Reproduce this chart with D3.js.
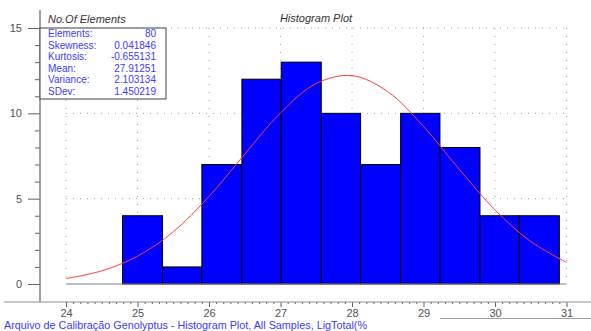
<!DOCTYPE html>
<html>
<head>
<meta charset="utf-8">
<script src="https://cdn.jsdelivr.net/npm/d3@7"></script>
<style>
	body { margin: 0; background: #ffffff; }
	svg text { font-family: "Liberation Sans", Arial, sans-serif; }
</style>
</head>
<body>
<div class="graph"></div>
<script>

// data

var binEdges = [24.79, 25.35, 25.90, 26.46, 27.01, 27.57, 28.12, 28.68, 29.23, 29.79, 30.34, 30.90];
var counts = [4, 1, 7, 12, 13, 10, 7, 10, 8, 4, 4];

// fitted normal curve, sampled every half unit
var curveX = [24, 24.5, 25, 25.5, 26, 26.5, 27, 27.5, 28, 28.5, 29, 29.5, 30, 30.5, 31];
var curveY = [0.32, 0.77, 1.63, 3.06, 5.13, 7.61, 10.03, 11.75, 12.21, 11.27, 9.23, 6.72, 4.34, 2.49, 1.27];

var statLabels = ["Elements:", "Skewness:", "Kurtosis:", "Mean:", "Variance:", "SDev:"];
var statValues = ["80", "0.041846", "-0.655131", "27.91251", "2.103134", "1.450219"];

var xTicks = [24, 25, 26, 27, 28, 29, 30, 31];
var yTicks = [0, 5, 10, 15];

var boxTitle = "No.Of Elements";
var plotTitle = "Histogram Plot";
var caption = "Arquivo de Calibração Genolyptus - Histogram Plot, All Samples, LigTotal(%";

//prepare SVG

var svgWidth = 591;
var svgHeight = 331;

var svg = d3.select("div.graph")
		.append("svg")
		.attr("width", svgWidth)
		.attr("height", svgHeight);

var x = d3.scaleLinear()
		.domain([24, 31])
		.range([66, 566.5]);

var y = d3.scaleLinear()
		.domain([0, 15])
		.range([284, 28]);

var gGrid = svg.append("g");
var gBars = svg.append("g");
var gCurve = svg.append("g");
var gAxes = svg.append("g");
var gStats = svg.append("g");
var gText = svg.append("g");

function renderGrid(){

	gGrid.selectAll("line.vgrid")
		.data(xTicks)
		.enter()
		.append("line")
		.attr("class", "vgrid")
		.attr("x1", function(d) {return x(d)})
		.attr("x2", function(d) {return x(d)})
		.attr("y1", y(15))
		.attr("y2", y(0))
		.attr("stroke", "#a0a0a0")
		.attr("stroke-dasharray", "1,7");

	gGrid.selectAll("line.hgrid")
		.data(yTicks.slice(1))
		.enter()
		.append("line")
		.attr("class", "hgrid")
		.attr("x1", x(24))
		.attr("x2", x(31))
		.attr("y1", function(d) {return y(d)})
		.attr("y2", function(d) {return y(d)})
		.attr("stroke", "#a0a0a0")
		.attr("stroke-dasharray", "1,6");
}

function renderBars(){

	gBars.selectAll("rect")
		.data(counts)
		.enter()
		.append("rect")
		.attr("x", function(d,n) {return x(binEdges[n])})
		.attr("width", function(d,n) {return x(binEdges[n+1]) - x(binEdges[n])})
		.attr("y", function(d) {return y(d)})
		.attr("height", function(d) {return y(0) - y(d)})
		.attr("fill", "#0000ff")
		.attr("stroke", "#000000")
		.attr("stroke-width", 1);

	// base line
	gBars.append("line")
		.attr("x1", x(24))
		.attr("x2", x(31))
		.attr("y1", y(0))
		.attr("y2", y(0))
		.attr("stroke", "#808080")
		.attr("stroke-width", 1.2);
}

function renderCurve(){

	var line = d3.line()
		.x(function(d,n) {return x(curveX[n])})
		.y(function(d) {return y(d)})
		.curve(d3.curveCatmullRom);

	gCurve.append("path")
		.datum(curveY)
		.attr("d", line)
		.attr("fill", "none")
		.attr("stroke", "#ff3b3b")
		.attr("stroke-width", 1);
}

function renderAxes(){

	var yAxis = d3.axisLeft(y)
		.tickValues(yTicks)
		.tickSize(12)
		.tickPadding(6);

	var yMinor = d3.axisLeft(y)
		.tickValues(d3.range(0, 16).filter(function(d) {return d % 5 != 0}))
		.tickSize(5)
		.tickFormat("");

	var xAxis = d3.axisBottom(x)
		.tickValues(xTicks)
		.tickSize(5)
		.tickPadding(2)
		.tickFormat(d3.format("d"));

	var xMinor = d3.axisBottom(x)
		.tickValues(d3.range(240, 311).filter(function(d) {return d % 10 != 0}).map(function(d) {return d / 10}))
		.tickSize(2)
		.tickFormat("");

	var gy = gAxes.append("g").attr("transform", "translate(40,0)").call(yAxis);
	var gy2 = gAxes.append("g").attr("transform", "translate(40,0)").call(yMinor);
	var gx = gAxes.append("g").attr("transform", "translate(0,302)").call(xAxis);
	var gx2 = gAxes.append("g").attr("transform", "translate(0,302)").call(xMinor);

	[gy, gy2, gx, gx2].forEach(function(g) {
		g.select(".domain").remove();
		g.selectAll("line").attr("stroke", "#606060");
		g.selectAll("text")
			.attr("fill", "#505050")
			.style("font-size", "11px");
	});

	// axis frame lines
	gAxes.append("line")
		.attr("x1", 40).attr("x2", 40)
		.attr("y1", 10).attr("y2", 302)
		.attr("stroke", "#808080")
		.attr("stroke-width", 1.5);

	gAxes.append("line")
		.attr("x1", 4).attr("x2", svgWidth)
		.attr("y1", 302).attr("y2", 302)
		.attr("stroke", "#909090")
		.attr("stroke-width", 1.2);

	gAxes.append("line")
		.attr("x1", 440).attr("x2", svgWidth)
		.attr("y1", 318.5).attr("y2", 318.5)
		.attr("stroke", "#a0a0a0")
		.attr("stroke-width", 1);
}

function renderStats(){

	gStats.append("rect")
		.attr("x", 40)
		.attr("y", y(15))
		.attr("width", 126)
		.attr("height", 71)
		.attr("fill", "#ffffff")
		.attr("stroke", "#606060")
		.attr("stroke-width", 1.2);

	gStats.selectAll("text.lab")
		.data(statLabels)
		.enter()
		.append("text")
		.attr("class", "lab")
		.attr("x", 48)
		.attr("y", function(d,n) {return 37 + n*11.5})
		.attr("fill", "#3a3aff")
		.style("font-size", "10px")
		.text(function(d) {return d});

	gStats.selectAll("text.val")
		.data(statValues)
		.enter()
		.append("text")
		.attr("class", "val")
		.attr("x", 156)
		.attr("y", function(d,n) {return 37 + n*11.5})
		.attr("text-anchor", "end")
		.attr("fill", "#3a3aff")
		.style("font-size", "10px")
		.text(function(d) {return d});
}

function renderText(){

	gText.append("text")
		.attr("x", 48)
		.attr("y", 23)
		.attr("fill", "#333333")
		.style("font-size", "11px")
		.style("font-style", "italic")
		.text(boxTitle);

	gText.append("text")
		.attr("x", 316)
		.attr("y", 22)
		.attr("text-anchor", "middle")
		.attr("fill", "#333333")
		.style("font-size", "11px")
		.style("font-style", "italic")
		.text(plotTitle);

	gText.append("text")
		.attr("x", 4)
		.attr("y", 329)
		.attr("fill", "#3a3aff")
		.style("font-size", "10.8px")
		.text(caption);
}

function initial() {
	renderGrid();
	renderBars();
	renderCurve();
	renderAxes();
	renderStats();
	renderText();
}

initial();

</script>
</body>
</html>
